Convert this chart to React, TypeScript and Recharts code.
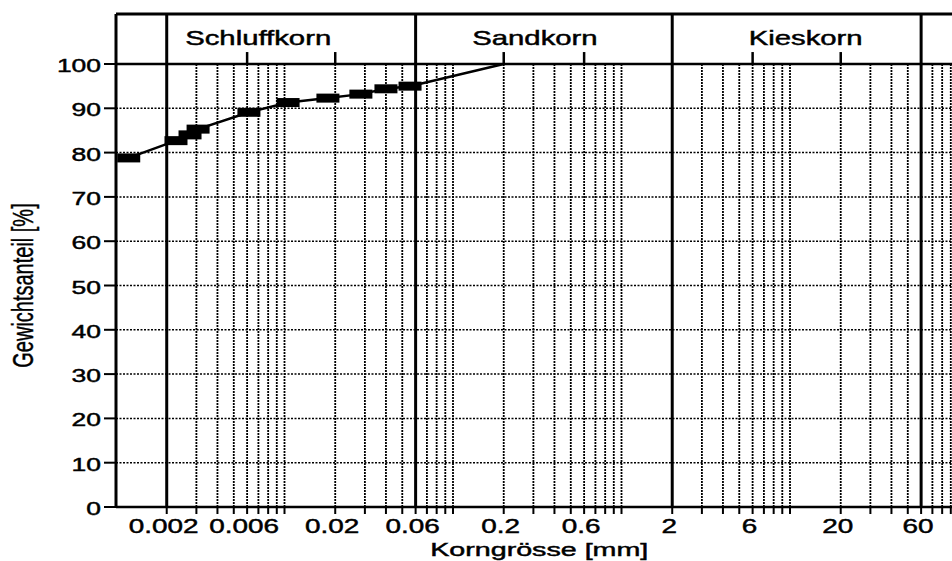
import React from 'react';
import { ComposedChart, Line, XAxis, YAxis, CartesianGrid, ReferenceLine, ReferenceArea } from 'recharts';

const korngroesse = [0.00119, 0.00227, 0.00275, 0.00307, 0.00615, 0.0105, 0.0181, 0.0284, 0.04, 0.0556, 0.2];
const gewichtsanteil = [78.8, 82.7, 84.0, 85.3, 89.1, 91.3, 92.3, 93.2, 94.4, 95.0, 100];
// last point is only where the curve reaches 100 %, no marker there
const gemessen = [true, true, true, true, true, true, true, true, true, true, false];

const klassen = ['Schluffkorn', 'Sandkorn', 'Kieskorn'];
const klassenGrenzen = [0.002, 0.06, 2, 60];

const xLabels = [0.002, 0.006, 0.02, 0.06, 0.2, 0.6, 2, 6, 20, 60];
const xGrid = [
  0.003, 0.004, 0.005, 0.006, 0.007, 0.008, 0.009,
  0.01, 0.02, 0.03, 0.04, 0.05, 0.07, 0.08, 0.09,
  0.1, 0.2, 0.3, 0.4, 0.5, 0.6, 0.7, 0.8, 0.9,
  1, 3, 4, 5, 6, 7, 8, 9,
  10, 20, 30, 40, 50, 70, 80, 90,
];
const yTicks = [0, 10, 20, 30, 40, 50, 60, 70, 80, 90, 100];

// layout
const FONT = '"Liberation Sans", Arial, sans-serif';
const SX = 1.43; // the scan is stretched sideways
const HEADER_TOP = (100 * 493) / 443;
const HEADER_TICK = 2.7;
const labelShift = [-33, -9, 9];
const textStyle = { fontFamily: FONT, fill: '#000', stroke: '#000', strokeWidth: 0.45 };

const data = korngroesse.map((d, i) => ({ d, pct: gewichtsanteil[i], mark: gemessen[i] }));
const xTicks = [...klassenGrenzen, ...xGrid].sort((a, b) => a - b);
const headerTicks = xLabels.filter((v) => !klassenGrenzen.includes(v));

const Marker = (props: any) => {
  const { cx, cy, payload, index } = props;
  if (!payload.mark) return <g key={`m${index}`} />;
  return <rect key={`m${index}`} x={cx - 11.5} y={cy - 4.5} width={23} height={9} fill="#000" />;
};

const XTick = (props: any) => {
  const { x, y, payload } = props;
  if (!xLabels.includes(payload.value)) return <g />;
  return (
    <text transform={`translate(${x - 3},${y + 17}) scale(${SX},1)`} textAnchor="middle" fontSize={19.5} style={textStyle}>
      {String(payload.value)}
    </text>
  );
};

const YTick = (props: any) => {
  const { x, y, payload } = props;
  return (
    <text transform={`translate(${x - 1},${y + 8}) scale(${SX},1)`} textAnchor="end" fontSize={18.5} style={textStyle}>
      {payload.value}
    </text>
  );
};

const HeaderLabel = (props: any) => {
  const { viewBox, text, shift } = props;
  if (!viewBox) return null;
  return (
    <text
      transform={`translate(${viewBox.x + viewBox.width / 2 + shift},${viewBox.y + 31}) scale(${SX},1)`}
      textAnchor="middle"
      fontSize={20.5}
      style={textStyle}
    >
      {text}
    </text>
  );
};

const XTitle = (props: any) => {
  const { viewBox } = props;
  if (!viewBox) return null;
  return (
    <text
      transform={`translate(${viewBox.x + viewBox.width / 2 + 2},${viewBox.y + 49}) scale(1.55,1)`}
      textAnchor="middle"
      fontSize={18.5}
      style={textStyle}
    >
      Korngrösse [mm]
    </text>
  );
};

const YTitle = (props: any) => {
  const { viewBox } = props;
  if (!viewBox) return null;
  return (
    <text
      transform={`translate(33,${viewBox.y + viewBox.height - 221.5}) scale(${SX},1) rotate(-90)`}
      textAnchor="middle"
      fontSize={20}
      style={{ ...textStyle, strokeWidth: 0.3 }}
    >
      Gewichtsanteil [%]
    </text>
  );
};

export default function App() {
  return (
    <div style={{ position: 'fixed', left: 0, top: 0, width: 952, height: 561, overflow: 'hidden', background: '#fff' }}>
      <ComposedChart width={975} height={561} data={data} margin={{ top: 14, right: 16.5, bottom: 4, left: 56 }}>
        <CartesianGrid horizontal vertical={false} stroke="#000" strokeWidth={1.5} strokeDasharray="2 1.5" />
        <XAxis
          dataKey="d"
          type="number"
          scale="log"
          domain={[0.001, 100]}
          allowDataOverflow
          ticks={xTicks}
          interval={0}
          height={50}
          tickSize={7}
          tickMargin={2}
          axisLine={{ stroke: '#000', strokeWidth: 2.5 }}
          tickLine={{ stroke: '#000', strokeWidth: 2 }}
          tick={<XTick />}
          label={<XTitle />}
        />
        <YAxis
          type="number"
          domain={[0, HEADER_TOP]}
          allowDataOverflow
          ticks={yTicks}
          interval={0}
          width={60}
          tickSize={12}
          tickMargin={2}
          axisLine={{ stroke: '#000', strokeWidth: 3 }}
          tickLine={{ stroke: '#000', strokeWidth: 2 }}
          tick={<YTick />}
          label={<YTitle />}
        />
        {xGrid.map((v) => (
          <ReferenceLine
            key={`g${v}`}
            segment={[{ x: v, y: 0 }, { x: v, y: 100 }]}
            stroke="#000"
            strokeWidth={1.8}
            strokeDasharray="2 1"
          />
        ))}
        {klassenGrenzen.map((v) => (
          <ReferenceLine key={`k${v}`} x={v} stroke="#000" strokeWidth={3} />
        ))}
        <ReferenceLine y={100} stroke="#000" strokeWidth={2.5} />
        <ReferenceLine y={HEADER_TOP} stroke="#000" strokeWidth={3} />
        {headerTicks.map((v) => (
          <ReferenceLine
            key={`h${v}`}
            segment={[{ x: v, y: 100 }, { x: v, y: 100 + HEADER_TICK }]}
            stroke="#000"
            strokeWidth={2.5}
          />
        ))}
        {klassen.map((name, i) => (
          <ReferenceArea
            key={name}
            x1={klassenGrenzen[i]}
            x2={klassenGrenzen[i + 1]}
            y1={100}
            y2={HEADER_TOP}
            fill="none"
            fillOpacity={0}
            strokeOpacity={0}
            label={<HeaderLabel text={name} shift={labelShift[i]} />}
          />
        ))}
        <Line
          dataKey="pct"
          type="linear"
          stroke="#000"
          strokeWidth={2.5}
          dot={Marker}
          activeDot={false}
          isAnimationActive={false}
        />
      </ComposedChart>
    </div>
  );
}
